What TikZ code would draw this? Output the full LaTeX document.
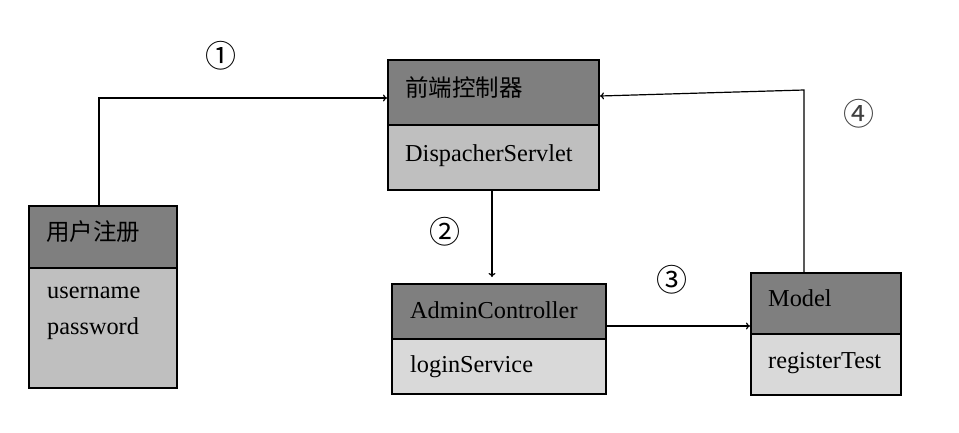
\documentclass[tikz,border=0pt]{standalone}
\usepackage{fontspec}
\setmainfont{Liberation Serif}
\newfontfamily\cjk{Noto Sans CJK SC}
\usetikzlibrary{arrows.meta}
\definecolor{hdrgray}{HTML}{7F7F7F}
\definecolor{bodygray}{HTML}{BFBFBF}
\definecolor{bodylight}{HTML}{D9D9D9}
\begin{document}
\begin{tikzpicture}[x=1pt,y=-1pt,
  part/.style={draw=black,line width=2pt,inner sep=0pt,anchor=north west},
  hdr/.style={part,fill=hdrgray},
  bodyd/.style={part,fill=bodygray},
  bodyl/.style={part,fill=bodylight},
  lbl/.style={anchor=base west,inner sep=0pt,font=\fontsize{24.3}{28}\selectfont},
  clbl/.style={anchor=west,inner sep=0pt,font=\fontsize{23.5}{27}\selectfont\cjk},
  num/.style={inner sep=0pt,font=\fontsize{31}{34}\selectfont\cjk},
  arr/.style={line width=1.2pt,-{To[length=4pt,width=7pt]}}
]
\useasboundingbox (0,0) rectangle (959,432);
% box 1
\node[hdr,minimum width=148pt,minimum height=62pt] (b1h) at (28,205) {};
\node[bodyd,minimum width=148pt,minimum height=120pt] (b1b) at (28,267) {};
\node[clbl] (t1h) at (46,232) {用户注册};
\node[lbl] (t1a) at (47,298) {username};
\node[lbl] (t1b) at (47,334) {password};
% box 2
\node[hdr,minimum width=211pt,minimum height=65pt] (b2h) at (387,59) {};
\node[bodyd,minimum width=211pt,minimum height=65pt] (b2b) at (387,124) {};
\node[clbl] (t2h) at (405,87.5) {前端控制器};
\node[lbl] (t2a) at (405,161) {DispacherServlet};
% box 3
\node[hdr,minimum width=214pt,minimum height=55pt] (b3h) at (391,283) {};
\node[bodyl,minimum width=214pt,minimum height=55pt] (b3b) at (391,338) {};
\node[lbl] (t3h) at (410,318) {AdminController};
\node[lbl] (t3a) at (410,372) {loginService};
% box 4
\node[hdr,minimum width=150pt,minimum height=61pt] (b4h) at (750,272) {};
\node[bodyl,minimum width=150pt,minimum height=61pt] (b4b) at (750,333) {};
\node[lbl] (t4h) at (768,306) {Model};
\node[lbl] (t4a) at (768,368) {registerTest};
% numbers
\node[num] (n1) at (221,56) {①};
\node[num] (n2) at (445,232) {②};
\node[num] (n3) at (672,280) {③};
\node[num,text=black!75] (n4) at (859,114) {④};
% connectors
\draw[arr] ([xshift=-4pt]b1h.north) |- ([yshift=-5.5pt]b2h.west);
\draw[arr,shorten >=6pt] ([xshift=-1.5pt]b2b.south) -- ([xshift=-1.5pt]b2b.south |- b3h.north);
\draw[arr] ([yshift=-14.5pt]b3h.east) -- ([yshift=-14.5pt]b3h.east -| b4h.west);
\coordinate (c4) at ([xshift=-22pt,yshift=182pt]b4h.north);
\draw[arr] ([xshift=-22pt]b4h.north) -- (c4) -- ([yshift=-3.5pt]b2h.east);
\end{tikzpicture}
\end{document}
